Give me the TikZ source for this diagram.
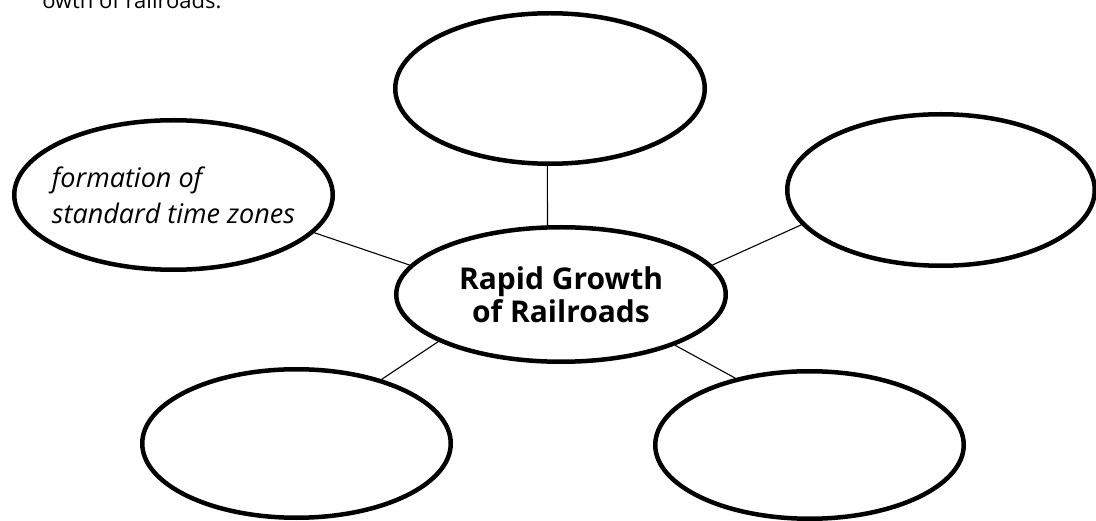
\documentclass[tikz,border=0pt]{standalone}
\usepackage{fontspec}
\setmainfont{Open Sans}
\newfontfamily\titlefont{Open Sans}
\newfontfamily\handfont{Open Sans}
\usetikzlibrary{shapes.geometric}
\begin{document}
\begin{tikzpicture}[x=1pt,y=-1pt,
  bubble/.style={draw=black,ellipse,line width=4.5pt,inner sep=0pt,fill=white},
  link/.style={draw=black,line width=1.1pt},
  hand/.style={font=\handfont\itshape\fontsize{27}{36}\selectfont,align=left,inner sep=0pt},
  main/.style={font=\titlefont\bfseries\fontsize{30}{33}\selectfont,align=center}]
\useasboundingbox[fill=white] (0,0) rectangle (1096,521);
\node[anchor=base east,font=\fontsize{22}{26}\selectfont] (cap) at (225,9) {owth of railroads.};
\node[bubble,minimum width=329.5pt,minimum height=134.5pt,main] (C) at (561,294.5) {Rapid Growth\\of Railroads};
\node[bubble,minimum width=309.5pt,minimum height=150.5pt] (T) at (550,88.5) {};
\node[bubble,minimum width=307.5pt,minimum height=151.5pt] (TR) at (941,190) {};
\node[bubble,minimum width=318.5pt,minimum height=149.5pt] (L) at (173.5,195) {};
\node[hand] (Ltext) at (L.center) {formation of\\standard time zones};
\node[bubble,minimum width=308.5pt,minimum height=148.5pt] (BL) at (296.5,443.5) {};
\node[bubble,minimum width=308.5pt,minimum height=147.5pt] (BR) at (809.5,445) {};
\draw[link] (T.268) -- (C.101.7);
\draw[link] (L.345.5) -- (C.169.4);
\draw[link] (TR.194.9) -- (C.11.8);
\draw[link] (BL.37.5) -- (C.201.4);
\draw[link] (BR.138.8) -- (C.336.7);
\end{tikzpicture}
\end{document}
